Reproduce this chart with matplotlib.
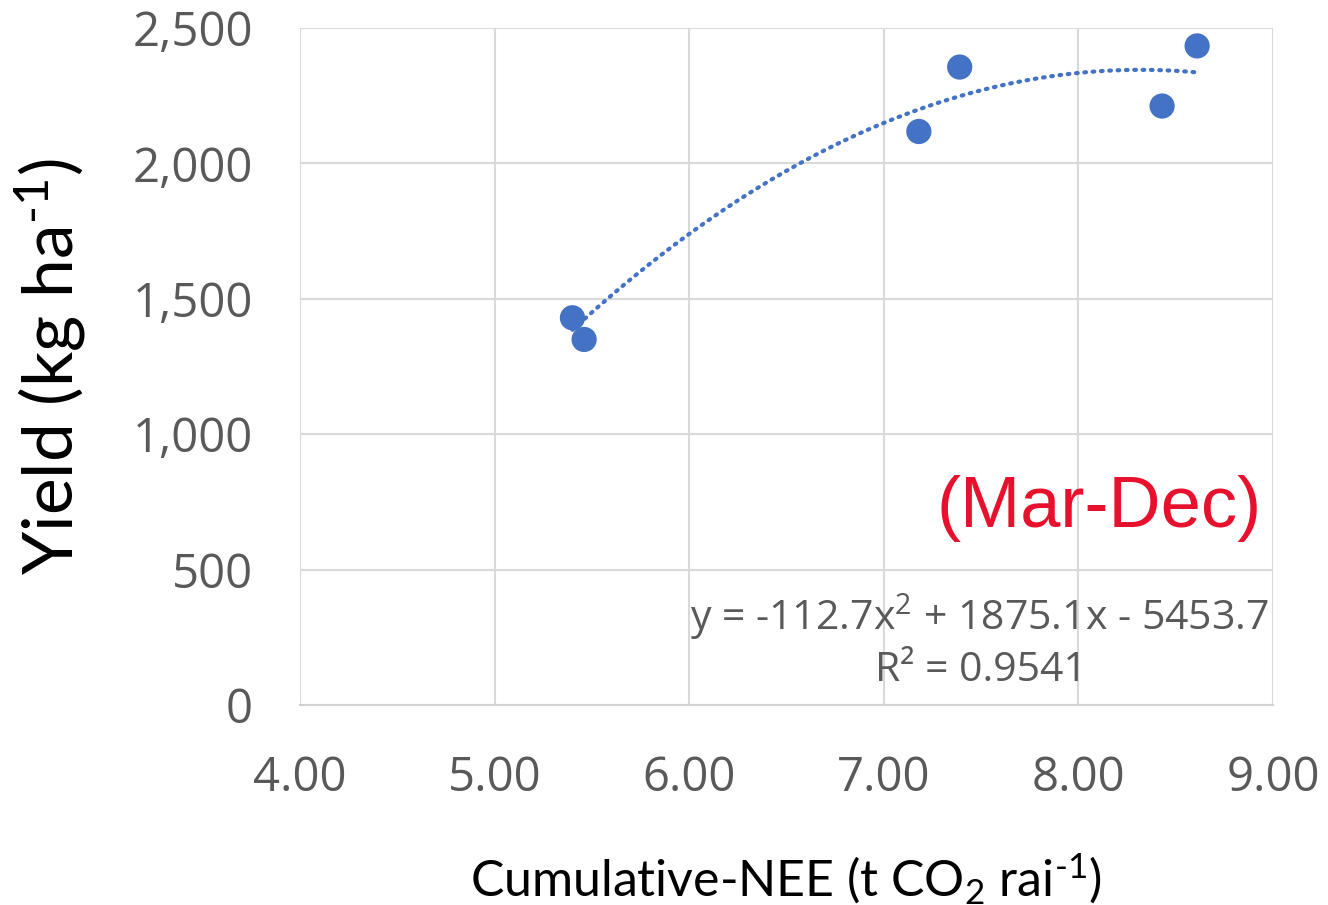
import numpy as np
import matplotlib
matplotlib.use("Agg")
import matplotlib.pyplot as plt

# Cumulative NEE (t CO2 rai-1) vs yield (kg ha-1), Mar-Dec
nee = [5.40, 5.46, 7.18, 7.39, 8.43, 8.61]
yield_kg = [1430, 1350, 2118, 2356, 2212, 2434]

# Excel polynomial trendline (order 2) as printed on the chart
trend_coef = [-112.7, 1875.1, -5453.7]
r_squared = 0.9541

x_ticks = [4.0, 5.0, 6.0, 7.0, 8.0, 9.0]
y_ticks = [0, 500, 1000, 1500, 2000, 2500]

plt.rcParams["mathtext.fontset"] = "custom"
plt.rcParams["mathtext.rm"] = "Lato"
plt.rcParams["mathtext.it"] = "Lato"
plt.rcParams["mathtext.default"] = "regular"

blue = "#4472C4"
tick_gray = "#595959"

fig = plt.figure(figsize=(13.28, 9.05), dpi=100)
ax = fig.add_axes([0.2259, 0.221, 0.7327, 0.748])

# trendline
xs = np.linspace(min(nee), max(nee), 200)
ax.plot(xs, np.polyval(trend_coef, xs), color=blue, lw=3, ls=(0, (0.4, 1.6)),
        dash_capstyle="round", zorder=2)
ax.scatter(nee, yield_kg, s=330, color=blue, zorder=3, edgecolors="none")

ax.set_xlim(4, 9)
ax.set_ylim(0, 2500)
ax.set_xticks(x_ticks)
ax.set_yticks(y_ticks)
ax.set_xticklabels([f"{v:.2f}" for v in x_ticks])
ax.set_yticklabels([f"{v:,}" for v in y_ticks])
ax.tick_params(axis="both", length=0, labelsize=34, labelcolor=tick_gray)
ax.tick_params(axis="x", pad=36)
ax.tick_params(axis="y", pad=34)
for lab in ax.get_xticklabels() + ax.get_yticklabels():
    lab.set_family("Open Sans")

ax.grid(True, color="#d9d9d9", lw=1.5)
ax.set_axisbelow(True)
for side in ["top", "right", "left"]:
    ax.spines[side].set_visible(False)
ax.spines["bottom"].set_color("#d0d0d0")
ax.spines["bottom"].set_linewidth(1.5)

fig.text(0.592, 1 - 878 / 905, r"Cumulative-NEE (t CO$_2$ rai$^{\text{-1}}$)",
         fontsize=36, family="Lato", ha="center", va="center")
ax.set_ylabel(r"Yield (kg ha$^{\text{-1}}$)", fontsize=50, family="Lato",
              labelpad=32)

ax.text(8.943, 725, "(Mar-Dec)", fontsize=52, color="#E8112D",
        family="Liberation Sans", ha="right", va="center")
ax.text(8.98, 325, "y = -112.7x$^{2}$ + 1875.1x - 5453.7", fontsize=29.5,
        color=tick_gray, family="Open Sans", ha="right", va="center")
ax.text(7.50, 125, f"R² = {r_squared}", fontsize=29.5,
        color=tick_gray, family="Open Sans", ha="center", va="center")

fig.savefig("out.png", dpi=100)
